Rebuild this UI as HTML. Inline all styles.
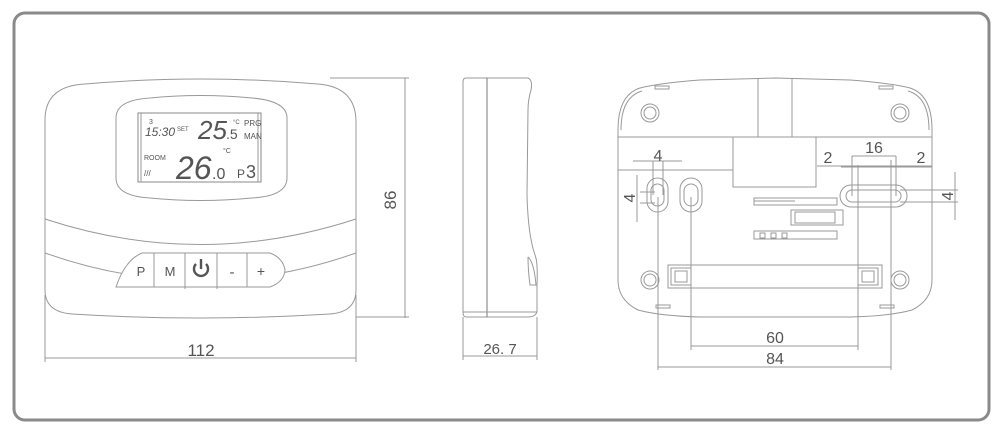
<!DOCTYPE html>
<html><head><meta charset="utf-8"><style>
html,body{margin:0;padding:0;background:#fff;width:1000px;height:437px;overflow:hidden}
svg{display:block}
text{font-family:"Liberation Sans",sans-serif;fill:#555}
</style></head><body>
<svg width="1000" height="437" viewBox="0 0 1000 437">
<rect x="14" y="13" width="975" height="407" rx="11" fill="none" stroke="#8a8a8a" stroke-width="3"/>
<g fill="none" stroke="#999" stroke-width="1">
<!-- front -->
<path d="M45,120 Q45,86 85,84 Q200,74 318,84 Q356,87 356,122 L356,290 Q356,312 330,314 Q200,322 72,314 Q45,312 45,290 Z"/>
<path d="M116,118 Q116,100 150,98 Q200,93 252,98 Q287,101 287,118 L287,178 Q287,196 252,198 Q200,203 150,198 Q116,196 116,178 Z"/>
<rect x="138" y="113" width="123" height="69" stroke="#888"/>
<line x1="141" y1="113" x2="141" y2="182"/><line x1="258" y1="113" x2="258" y2="182"/>
<path d="M45,219 Q200,270 356,219"/>
<path d="M45,253 Q200,308 356,253"/>
<path d="M116,287 Q125,260 142,253 L270,253 Q283,258 285,270 Q284,282 270,287 Z" fill="#fff"/>
<line x1="154" y1="253" x2="154" y2="287"/><line x1="185" y1="253" x2="185" y2="289"/><line x1="217" y1="253" x2="217" y2="289"/><line x1="247" y1="253" x2="247" y2="287"/>
<line x1="405" y1="78" x2="405" y2="318"/><line x1="330" y1="78" x2="409" y2="78"/><line x1="356" y1="317" x2="409" y2="317"/>
<line x1="45" y1="358" x2="356" y2="358"/><line x1="45" y1="295" x2="45" y2="362"/><line x1="356" y1="295" x2="356" y2="362"/>
<!-- side -->
<path d="M466,78 L528,78 Q533,80 531,90 Q528,100 528,110 L527,195 Q528,235 535,255 Q538,262 537,285 L537,312 Q535,317 528,317 L466,317 Q463,317 463,312 L463,82 Q463,78 466,78 Z"/>
<line x1="487" y1="78" x2="487" y2="317" stroke="#777"/>
<path d="M528,257 Q534,262 536,285 L530,285 Q528,270 528,257"/>
<line x1="463" y1="312" x2="537" y2="312"/>
<line x1="463" y1="356" x2="537" y2="356"/><line x1="463" y1="317" x2="463" y2="360"/><line x1="537" y1="317" x2="537" y2="360"/>
<!-- back -->
<path d="M618,130 Q618,95 640,88 Q660,83 700,80 L775,78 L850,80 Q890,83 910,88 Q932,95 932,130 L932,280 Q932,300 912,310 Q890,316 850,317 L700,317 Q660,316 638,310 Q618,300 618,280 Z"/>
<path d="M621,130 Q621,97 642,91"/><path d="M929,130 Q929,97 908,91"/>
<line x1="758" y1="78" x2="758" y2="137"/><line x1="792" y1="78" x2="792" y2="137"/>
<line x1="618" y1="137" x2="932" y2="137"/>
<line x1="618" y1="170" x2="733" y2="170"/><line x1="817" y1="166" x2="932" y2="166"/>
<rect x="733" y="137" width="83" height="50"/>
<circle cx="650" cy="113" r="9"/><circle cx="650" cy="113" r="6"/>
<circle cx="900" cy="113" r="9"/><circle cx="900" cy="113" r="6"/>
<circle cx="650" cy="280" r="9"/><circle cx="650" cy="280" r="6"/>
<circle cx="900" cy="280" r="9"/><circle cx="900" cy="280" r="6"/>
<rect x="647" y="178" width="21" height="34" rx="10.5"/><rect x="651" y="184" width="13" height="22" rx="6.5"/>
<rect x="680" y="178" width="22" height="34" rx="11"/><rect x="684" y="184" width="14" height="22" rx="7"/>
<rect x="840" y="185" width="67" height="22" rx="11"/><rect x="846" y="190" width="55" height="12" rx="6"/>
<rect x="754" y="198" width="83" height="7"/><line x1="754" y1="201" x2="795" y2="201"/>
<rect x="791" y="210" width="52" height="15"/><rect x="795" y="212" width="40" height="11"/>
<rect x="754" y="231" width="83" height="8"/><rect x="760" y="233" width="5" height="5"/><rect x="771" y="233" width="5" height="5"/><rect x="782" y="233" width="5" height="5"/>
<rect x="668" y="265" width="214" height="23"/><rect x="671" y="268" width="20" height="17"/><rect x="858" y="268" width="20" height="17"/>
<rect x="675" y="271" width="12" height="11"/><rect x="862" y="271" width="12" height="11"/>
<rect x="655" y="86" width="14" height="3"/><rect x="879" y="86" width="14" height="3"/>
<rect x="656" y="305" width="14" height="3"/><rect x="880" y="305" width="14" height="3"/>
<line x1="658" y1="197" x2="658" y2="370"/><line x1="691" y1="197" x2="691" y2="350"/>
<line x1="858" y1="165" x2="858" y2="350"/><line x1="891" y1="160" x2="891" y2="370"/>
<line x1="691" y1="346" x2="858" y2="346"/><line x1="658" y1="367" x2="891" y2="367"/>
<line x1="633" y1="161" x2="682" y2="161"/><line x1="653" y1="161" x2="653" y2="195"/><line x1="663" y1="161" x2="663" y2="195"/>
<line x1="640" y1="192" x2="655" y2="192"/><line x1="640" y1="203" x2="655" y2="203"/><line x1="637" y1="175" x2="637" y2="222"/>
<line x1="841" y1="167" x2="932" y2="167"/><line x1="852" y1="156" x2="896" y2="156"/><line x1="852" y1="156" x2="852" y2="196"/><line x1="896" y1="156" x2="896" y2="196"/>
<line x1="900" y1="190" x2="958" y2="190"/><line x1="900" y1="202" x2="958" y2="202"/><line x1="955" y1="172" x2="955" y2="220"/>
</g>
<!-- LCD text -->
<text x="149" y="124" font-size="7">3</text>
<text x="145" y="136" font-size="12" font-style="italic">15:30</text>
<text x="177" y="131" font-size="6">SET</text>
<text x="198" y="139" font-size="26" fill="#666" font-style="italic">25</text><text x="226" y="139" font-size="14" fill="#666">.5</text>
<text x="233" y="124" font-size="6">°C</text>
<text x="244" y="126" font-size="8">PRG</text>
<text x="244" y="139" font-size="8">MAN</text>
<text x="144" y="160" font-size="7">ROOM</text>
<text x="144" y="176" font-size="8">///</text>
<text x="176" y="179" font-size="32" fill="#666" font-style="italic">26</text><text x="212" y="179" font-size="16" fill="#666">.0</text>
<text x="223" y="153" font-size="7">°C</text>
<text x="237" y="178" font-size="12">P</text><text x="246" y="178" font-size="18">3</text>
<!-- buttons -->
<text x="141" y="276" font-size="13" text-anchor="middle">P</text>
<text x="170" y="276" font-size="13" text-anchor="middle">M</text>
<g fill="none" stroke="#555" stroke-width="2.4"><path d="M196,264 A7,7 0 1 0 206,264"/><line x1="201" y1="259" x2="201" y2="269"/></g>
<text x="232" y="277" font-size="15" text-anchor="middle">-</text>
<text x="261" y="276" font-size="14" text-anchor="middle">+</text>
<!-- dims -->
<text x="201" y="356" font-size="17" text-anchor="middle">112</text>
<text transform="translate(396,200) rotate(-90)" font-size="17" text-anchor="middle">86</text>
<text x="500" y="354" font-size="15" text-anchor="middle">26. 7</text>
<text x="775" y="343" font-size="16" text-anchor="middle">60</text>
<text x="775" y="364" font-size="16" text-anchor="middle">84</text>
<text x="658" y="161" font-size="16" text-anchor="middle">4</text>
<text x="828" y="163" font-size="16" text-anchor="middle">2</text>
<text x="874" y="153" font-size="16" text-anchor="middle">16</text>
<text x="921" y="163" font-size="16" text-anchor="middle">2</text>
<text transform="translate(635,198) rotate(-90)" font-size="16" text-anchor="middle">4</text>
<text transform="translate(953,196) rotate(-90)" font-size="16" text-anchor="middle">4</text>
</svg>
</body></html>
